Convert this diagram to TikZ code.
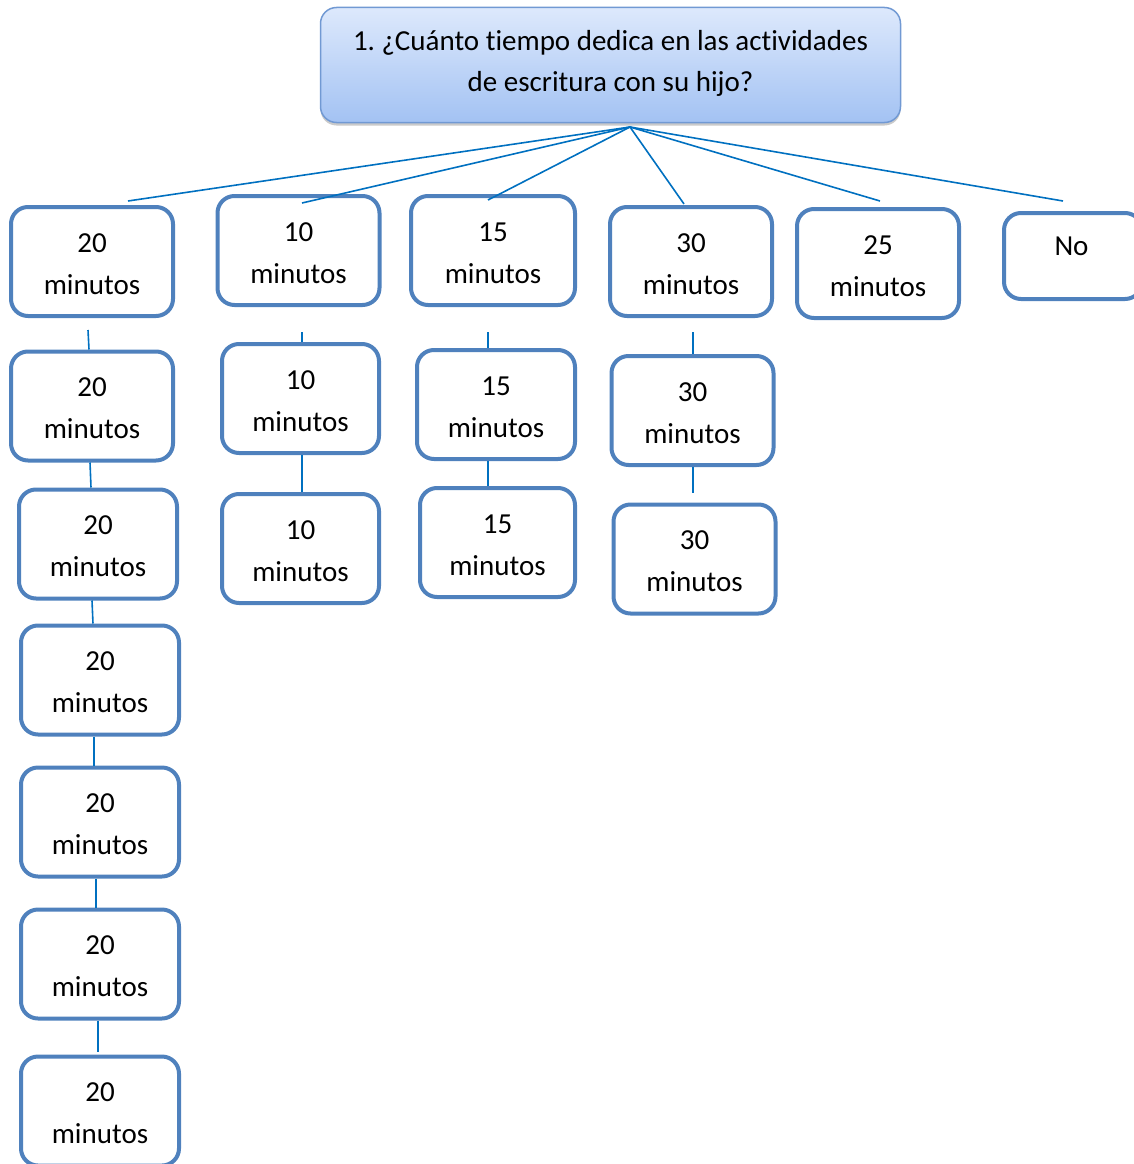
\documentclass[tikz,border=0pt]{standalone}
\usepackage{fontspec}
\setmainfont[Ligatures={NoCommon}]{Carlito}
\usetikzlibrary{shadows}
\definecolor{boxline}{HTML}{4F81BD}
\definecolor{conn}{HTML}{0070C0}
\definecolor{topA}{HTML}{DDE9FC}
\definecolor{topB}{HTML}{A3C2F3}
\definecolor{topline}{HTML}{7199D3}
\newcommand{\optxt}[1]{\raisebox{-2.5pt}[\height][\depth]{\parbox{150pt}{\centering #1\\minutos}}}
\tikzset{
  optbox/.style={draw=boxline, line width=4pt, rounded corners=17pt, fill=white,
    minimum width=162pt, minimum height=109pt, inner sep=0pt,
    font=\fontsize{29}{42}\selectfont},
  topbox/.style={draw=topline, line width=1.5pt, rounded corners=16pt,
    top color=topA, bottom color=topB,
    minimum width=580pt, minimum height=115pt, align=center, inner sep=0pt,
    font=\fontsize{29}{41}\selectfont,
    drop shadow={shadow xshift=0pt, shadow yshift=-3pt, opacity=0.35, fill=black!60}},
  link/.style={draw=conn, line width=1.6pt}
}
\begin{document}
\begin{tikzpicture}[x=1pt,y=-1pt]
\useasboundingbox (0,0) rectangle (1134,1164);
\begin{scope}
\clip (0,0) rectangle (1134,1164);
% top
\node[topbox] (q) at (610.5,65) {\raisebox{2pt}[\height][\depth]{\parbox{560pt}{\centering\frenchspacing 1. ¿Cuánto tiempo dedica en las actividades\\de escritura con su hijo?}}};
% row 1
\node[optbox] (a1) at (92,261.5) {\optxt{20}};
\node[optbox] (b1) at (298.5,250.5) {\optxt{10}};
\node[optbox, minimum width=164pt] (c1) at (493,250.5) {\optxt{15}};
\node[optbox] (d1) at (691,261.5) {\optxt{30}};
\node[optbox] (e1) at (878,263.5) {\optxt{25}};
\node[optbox, minimum width=138pt, minimum height=86pt, anchor=north west] (f1) at (1002,211) {\hspace{-3pt}\raisebox{10pt}[\height][\depth]{No}};
% column 1
\node[optbox] (a2) at (92,406) {\optxt{20}};
\node[optbox, minimum width=158pt] (a3) at (98,544) {\optxt{20}};
\node[optbox, minimum width=158pt] (a4) at (100,680) {\optxt{20}};
\node[optbox, minimum width=158pt] (a5) at (100,822) {\optxt{20}};
\node[optbox, minimum width=158pt] (a6) at (100,964) {\optxt{20}};
\node[optbox, minimum width=158pt] (a7) at (100,1111) {\optxt{20}};
% column 2
\node[optbox, minimum width=157pt] (b2) at (300.5,398.5) {\optxt{10}};
\node[optbox, minimum width=157pt] (b3) at (300.5,548.5) {\optxt{10}};
% column 3
\node[optbox, minimum width=158pt] (c2) at (496,404.5) {\optxt{15}};
\node[optbox, minimum width=155pt] (c3) at (497.5,542.5) {\optxt{15}};
% column 4
\node[optbox] (d2) at (692.5,410.5) {\optxt{30}};
\node[optbox] (d3) at (694.5,559) {\optxt{30}};
% fan connectors
\coordinate (apex) at (630,127);
\coordinate (ea) at (128,201);
\coordinate (eb) at (302,203);
\coordinate (ec) at (488,200);
\coordinate (ed) at (684,204);
\coordinate (ee) at (880,201);
\coordinate (ef) at (1063,201);
\foreach \e in {ea,eb,ec,ed,ee,ef} \draw[link] (apex) -- (\e);
% vertical connectors
\draw[link] ([xshift=-4pt,yshift=-12pt]a1.south) -- ([xshift=-3pt]a2.north);
\draw[link] ([xshift=-2pt]a2.south) -- ([xshift=-7pt]a3.north);
\draw[link] ([xshift=-6pt]a3.south) -- ([xshift=-7pt]a4.north);
\draw[link] ([xshift=-6pt]a4.south) -- ([xshift=-6pt]a5.north);
\draw[link] ([xshift=-4pt]a5.south) -- ([xshift=-4pt]a6.north);
\draw[link] ([xshift=-2pt]a6.south) -- ([xshift=-2pt,yshift=3pt]a7.north);
\draw[link] ([xshift=3.5pt,yshift=-25pt]b1.south) -- ([xshift=1.5pt]b2.north);
\draw[link] ([xshift=1.5pt]b2.south) -- ([xshift=1.5pt]b3.north);
\draw[link] ([xshift=-5pt,yshift=-25pt]c1.south) -- ([xshift=-8pt]c2.north);
\draw[link] ([xshift=-8pt]c2.south) -- ([xshift=-9.5pt]c3.north);
\draw[link] ([xshift=2pt,yshift=-14pt]d1.south) -- ([xshift=0.5pt]d2.north);
\draw[link] ([xshift=0.5pt]d2.south) -- ([xshift=-1.5pt,yshift=10pt]d3.north);
\end{scope}
\end{tikzpicture}
\end{document}
